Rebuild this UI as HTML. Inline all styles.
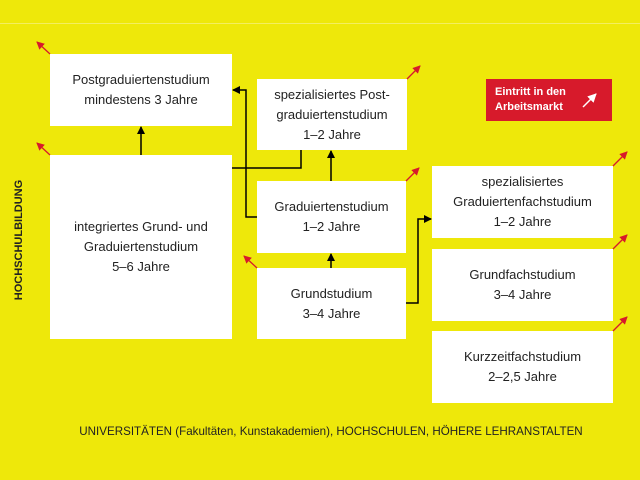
<!DOCTYPE html>
<html><head><meta charset="utf-8"><style>
body{margin:0;width:640px;height:480px;background:#eee80a;position:relative;overflow:hidden;font-family:"Liberation Sans",sans-serif;color:#222}
.b{position:absolute;background:#fff;display:flex;align-items:center;justify-content:center;text-align:center;font-size:13px;line-height:20px}
</style></head><body>
<div style="position:absolute;left:0;top:23px;width:640px;height:1px;background:#f3ee60"></div>
<div class="b" style="left:50px;top:54px;width:182px;height:72px">Postgraduiertenstudium<br>mindestens 3 Jahre</div>
<div class="b" style="left:50px;top:155px;width:182px;height:184px">integriertes Grund- und<br>Graduiertenstudium<br>5–6 Jahre</div>
<div class="b" style="left:257px;top:79px;width:150px;height:71px">spezialisiertes Post-<br>graduiertenstudium<br>1–2 Jahre</div>
<div class="b" style="left:257px;top:181px;width:149px;height:72px">Graduiertenstudium<br>1–2 Jahre</div>
<div class="b" style="left:257px;top:268px;width:149px;height:71px">Grundstudium<br>3–4 Jahre</div>
<div class="b" style="left:432px;top:166px;width:181px;height:72px">spezialisiertes<br>Graduiertenfachstudium<br>1–2 Jahre</div>
<div class="b" style="left:432px;top:249px;width:181px;height:72px">Grundfachstudium<br>3–4 Jahre</div>
<div class="b" style="left:432px;top:331px;width:181px;height:72px">Kurzzeitfachstudium<br>2–2,5 Jahre</div>
<div style="position:absolute;left:486px;top:79px;width:126px;height:42px;background:#d71a2b;color:#fff;font-weight:bold;font-size:11px;line-height:15px;box-sizing:border-box;padding:6px 0 0 9px">Eintritt in den<br>Arbeitsmarkt</div>
<div style="position:absolute;left:13px;top:240px;width:0;height:0"><div style="position:absolute;transform:translate(-50%,-50%) rotate(-90deg);white-space:nowrap;font-weight:bold;font-size:11px;left:6px;top:0">HOCHSCHULBILDUNG</div></div>
<div style="position:absolute;left:0;width:662px;top:425px;text-align:center;font-size:11.6px">UNIVERSITÄTEN (Fakultäten, Kunstakademien), HOCHSCHULEN, HÖHERE LEHRANSTALTEN</div>
<svg width="640" height="480" style="position:absolute;left:0;top:0">
<defs>
<marker id="k" markerWidth="8" markerHeight="8" refX="7" refY="4" orient="auto" markerUnits="userSpaceOnUse"><path d="M0,0L8,4L0,8z" fill="#000"/></marker>
<marker id="r" markerWidth="8" markerHeight="8" refX="7" refY="4" orient="auto" markerUnits="userSpaceOnUse"><path d="M0,0L8,4L0,8z" fill="#d71a2b"/></marker>
<marker id="w" markerWidth="9" markerHeight="9" refX="8" refY="4.5" orient="auto" markerUnits="userSpaceOnUse"><path d="M0,0L9,4.5L0,9z" fill="#fff"/></marker>
</defs>
<g stroke="#000" stroke-width="1.5" fill="none">
<path d="M141,155V127" marker-end="url(#k)"/>
<path d="M257,217H246V90H233" marker-end="url(#k)"/>
<path d="M232,168H301V150"/>
<path d="M331,181V151" marker-end="url(#k)"/>
<path d="M331,268V254" marker-end="url(#k)"/>
<path d="M406,303H418V219H431" marker-end="url(#k)"/>
</g>
<g stroke="#d71a2b" stroke-width="1.3" marker-end="url(#r)">
<line x1="50" y1="54" x2="37" y2="42"/>
<line x1="50" y1="155" x2="37" y2="143"/>
<line x1="257" y1="268" x2="244" y2="256"/>
<line x1="407" y1="79" x2="420" y2="66"/>
<line x1="406" y1="181" x2="419" y2="168"/>
<line x1="613" y1="166" x2="627" y2="152"/>
<line x1="613" y1="249" x2="627" y2="235"/>
<line x1="613" y1="331" x2="627" y2="317"/>
</g>
<line x1="583" y1="107" x2="596" y2="94" stroke="#fff" stroke-width="1.5" marker-end="url(#w)"/>
</svg>
</body></html>
